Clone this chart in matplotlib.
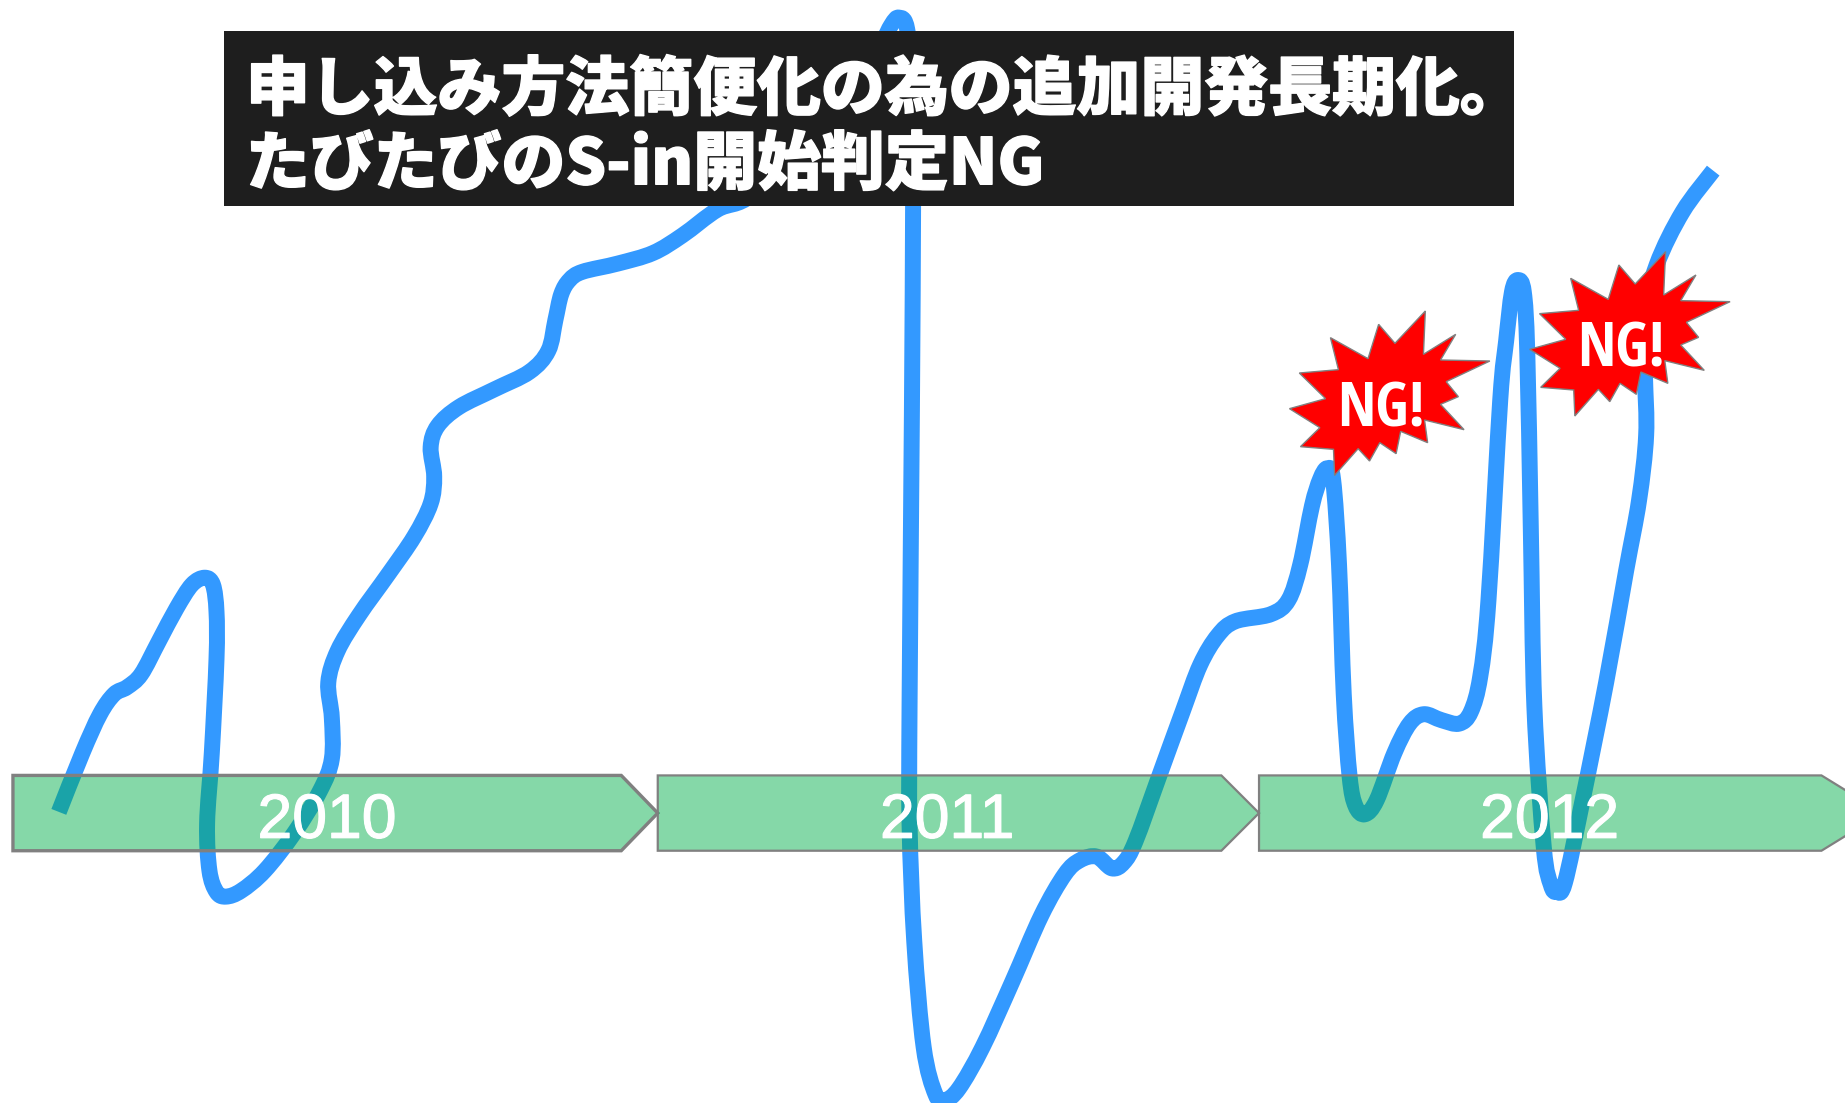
#!/usr/bin/python

import matplotlib
matplotlib.use("Agg")
import matplotlib.pyplot as plt
import matplotlib.patheffects as pe
from matplotlib.path import Path
from matplotlib.patches import PathPatch, Polygon, Rectangle

plt.rcParams['font.family'] = ['Noto Sans CJK JP', 'DejaVu Sans']

#the curve (1568 wide units)
curve_x = [50, 70, 85, 97, 108, 120, 135, 150, 163, 174, 181, 184, 184, 180, 176, 178, 184, 192, 205, 225,
           250, 272, 282, 282, 279, 287, 305, 330, 352, 366, 369, 366, 372, 390, 420, 450, 466, 472, 477, 484, 495,
           525, 555, 580, 610, 640, 700, 742, 757, 764, 771, 776, 776, 775, 773, 773, 777, 785, 795, 803, 815,
           835, 860, 885, 905, 918, 932, 945, 955, 965, 985, 1005, 1020, 1035, 1050, 1080, 1095, 1105, 1115, 1122,
           1128, 1133, 1138, 1142, 1147, 1152, 1160, 1170, 1185, 1198, 1210, 1225, 1240, 1250, 1258, 1265,
           1275, 1280, 1285, 1290, 1295, 1298, 1301, 1304, 1312, 1318, 1323, 1330, 1345, 1365, 1382, 1393, 1399, 1398,
           1397, 1408, 1430, 1456]
curve_y = [690, 640, 607, 590, 584, 573, 545, 517, 497, 491, 497, 520, 560, 640, 700, 740, 758, 762, 757, 740,
           708, 672, 645, 610, 580, 553, 523, 488, 456, 428, 405, 380, 362, 346, 331, 316, 298, 272, 250, 238, 231,
           224, 215, 200, 178, 165, 110, 50, 22, 15, 25, 80, 175, 350, 600, 700, 800, 890, 930, 935, 925,
           890, 835, 778, 743, 731, 728, 738, 733, 715, 660, 605, 565, 540, 528, 522, 510, 480, 430, 407,
           398, 408, 480, 590, 660, 685, 692, 680, 640, 615, 607, 612, 615, 605, 575, 510,
           340, 290, 248, 238, 248, 300, 450, 600, 720, 752, 758, 750, 680, 580, 485, 425, 370, 320,
           270, 225, 180, 145]

#year arrows
years = ["2010", "2011", "2012"]
arrow_left = [11, 559, 1070]
arrow_shoulder = [528, 1038, 1548]
arrow_tip = [559, 1070, 1600]
arrow_lw = [2.4, 1.6, 1.6]
year_x = [278, 805, 1317]

#burst outline, one for each NG!
star_x = [1095, 1090, 1175, 1135, 1265, 1150, 1182, 1135, 1197, 1093, 1101, 1030, 1018, 975,
          948, 918, 856, 853, 766, 817, 737, 832, 763, 866, 845, 944, 972, 1015]
star_y = [305, 435, 375, 452, 455, 517, 562, 585, 661, 632, 700, 666, 733, 700,
          755, 718, 798, 720, 712, 655, 598, 568, 491, 481, 385, 448, 345, 402]
star_dx = [-633, 0]
star_dy = [178, 0]
ng_x = [1174, 1378]
ng_y = [349, 298]

title = "申し込み方法簡便化の為の追加開発長期化。\nたびたびのS-in開始判定NG"

#smooth line through the read points
def smooth_path(xs, ys):
    pts = list(zip(xs, ys))
    verts = [pts[0]]
    codes = [Path.MOVETO]
    for i in range(len(pts) - 1):
        p0 = pts[max(i - 1, 0)]
        p1 = pts[i]
        p2 = pts[i + 1]
        p3 = pts[min(i + 2, len(pts) - 1)]
        verts.append((p1[0] + (p2[0] - p0[0]) / 6.0, p1[1] + (p2[1] - p0[1]) / 6.0))
        verts.append((p2[0] - (p3[0] - p1[0]) / 6.0, p2[1] - (p3[1] - p1[1]) / 6.0))
        verts.append(p2)
        codes += [Path.CURVE4, Path.CURVE4, Path.CURVE4]
    return Path(verts, codes)

fig = plt.figure(figsize=(18.45, 11.03), dpi=100)
ax = fig.add_axes([0, 0, 1, 1])
ax.set_xlim(0, 1568)
ax.set_ylim(937.4, 0)
ax.axis("off")

ax.add_patch(PathPatch(smooth_path(curve_x, curve_y), fill=False, edgecolor="#3399ff",
                       lw=11.5, capstyle="butt", joinstyle="round", zorder=1))

for i in range(len(years)):
    outline = [(arrow_left[i], 659), (arrow_shoulder[i], 659), (arrow_tip[i], 691),
               (arrow_shoulder[i], 723), (arrow_left[i], 723)]
    ax.add_patch(Polygon(outline, closed=True, facecolor=(0, 174 / 255.0, 74 / 255.0, 0.48),
                         edgecolor="#808080", lw=arrow_lw[i], zorder=2))
    ax.text(year_x[i], 698, years[i], color="white", fontsize=45, ha="center", va="center",
            family=["Liberation Sans"], zorder=3,
            path_effects=[pe.withStroke(linewidth=0.8, foreground="white")])

ax.add_patch(Rectangle((190, 26.5), 1097, 148.5, facecolor="#1e1e1e", edgecolor="none", zorder=4))
ax.text(209, 109, title, color="white", fontsize=46, fontweight=900, ha="left", va="center",
        linespacing=1.22, zorder=5,
        path_effects=[pe.withStroke(linewidth=1.0, foreground="white")])

for i in range(2):
    xs = [(1250 + (x + star_dx[i]) / 2.635) / (1845 / 1568.0) for x in star_x]
    ys = [(150 + (y + star_dy[i]) / 3.0) / (1845 / 1568.0) for y in star_y]
    ax.add_patch(Polygon(list(zip(xs, ys)), closed=True, facecolor="#ff0000",
                         edgecolor="#808080", lw=1, zorder=6))
    ax.text(ng_x[i], ng_y[i], "NG!", color="white", fontsize=44, fontweight="bold", ha="center", va="center",
            family=["Open Sans Condensed"], zorder=7)

fig.savefig("out.png", dpi=100)
